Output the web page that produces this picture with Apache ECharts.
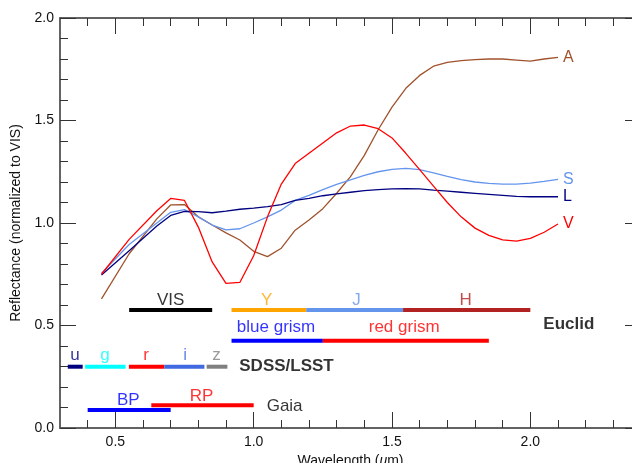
<!DOCTYPE html>
<html>
<head>
<meta charset="utf-8">
<script src="https://cdn.jsdelivr.net/npm/echarts@6/dist/echarts.min.js"></script>
<style>
html,body{margin:0;padding:0;background:#fff;}
#chart{width:632px;height:463px;}
</style>
</head>
<body>
<div id="chart"></div>
<script>
// ---- data ----
const wavelength = [0.45,0.55,0.65,0.70,0.75,0.80,0.85,0.90,0.95,1.00,1.05,1.10,1.15,1.20,1.25,1.30,1.35,1.40,1.45,1.50,1.55,1.60,1.65,1.70,1.75,1.80,1.85,1.90,1.95,2.00,2.05,2.10];
const seriesA = [0.63,0.85,1.02,1.088,1.09,1.03,0.99,0.952,0.917,0.862,0.836,0.877,0.965,1.015,1.07,1.145,1.226,1.33,1.455,1.565,1.657,1.72,1.765,1.784,1.792,1.797,1.80,1.80,1.795,1.79,1.80,1.808];
const seriesS = [0.755,0.895,1.00,1.052,1.065,1.03,0.99,0.966,0.972,1.00,1.03,1.063,1.11,1.135,1.163,1.188,1.21,1.232,1.25,1.262,1.266,1.26,1.245,1.228,1.212,1.20,1.193,1.19,1.19,1.195,1.203,1.213];
const seriesL = [0.746,0.865,0.985,1.037,1.057,1.055,1.05,1.058,1.067,1.073,1.08,1.09,1.11,1.12,1.133,1.142,1.15,1.158,1.163,1.166,1.167,1.166,1.16,1.155,1.15,1.145,1.14,1.135,1.13,1.128,1.128,1.128];
const seriesV = [0.75,0.92,1.06,1.12,1.11,0.98,0.81,0.705,0.71,0.84,1.03,1.19,1.29,1.34,1.39,1.44,1.473,1.478,1.46,1.415,1.34,1.26,1.18,1.10,1.03,0.975,0.94,0.918,0.912,0.925,0.955,0.995];
const curveNames = ['A','S','L','V'];

const bandNames  = ['VIS','Y','J','H','blue grism','red grism','u','g','r','i','z','BP','RP'];
const bandStart  = [0.55,0.92,1.19,1.54,0.92,1.25,0.328,0.391,0.549,0.677,0.830,0.40,0.63];
const bandEnd    = [0.85,1.19,1.54,2.00,1.25,1.85,0.382,0.537,0.677,0.822,0.905,0.70,1.00];
const bandLevel  = [0.576,0.576,0.576,0.576,0.426,0.426,0.299,0.299,0.299,0.299,0.299,0.088,0.111];
const bandLabelX = [0.70,1.047,1.372,1.766,1.081,1.544,0.354,0.463,0.611,0.752,0.866,0.547,0.812];
const bandLabelY = [0.622,0.622,0.622,0.622,0.489,0.489,0.354,0.354,0.354,0.354,0.354,0.134,0.156];

const groupNames = ['Euclid','SDSS/LSST','Gaia'];
const groupX     = [2.047,0.948,1.047];
const groupY     = [0.505,0.302,0.107];

const xMajorTicks = [0.5,1.0,1.5,2.0];
const xMinorTicks = [0.4,0.5,0.6,0.7,0.8,0.9,1.0,1.1,1.2,1.3,1.4,1.5,1.6,1.7,1.8,1.9,2.0,2.1,2.2,2.3];

// ---- styles ----
const curveColors = {A:'#A0522D', S:'#6495ED', L:'#000080', V:'#FF0000'};
const bandColors = {'VIS':'#000000','Y':'#FFA500','J':'#6495ED','H':'#B22222','blue grism':'#0000FF','red grism':'#FF0000',
  'u':'#000080','g':'#00FFFF','r':'#FF0000','i':'#4169E1','z':'#7F7F7F','BP':'#0000FF','RP':'#FF0000'};
const groupBold = {'Euclid':true,'SDSS/LSST':true,'Gaia':false};
const FONT = '"Liberation Sans", Arial, Helvetica, sans-serif';
const axisLine = {show:true, onZero:false, lineStyle:{color:'#5a5a5a', width:1.5}};
const tickColor = '#333';

const curveData = {A:seriesA, S:seriesS, L:seriesL, V:seriesV};

function xAxisDef(pos, ticks, len, withLabel) {
  const ax = {
    type:'value', min:0.3, max:2.4, position:pos, gridIndex:0,
    axisLine: axisLine,
    splitLine:{show:false},
    axisTick:{show:true, inside:true, length:len, customValues:ticks, lineStyle:{color:tickColor, width:1}},
    axisLabel:{show:false}
  };
  if (withLabel) {
    ax.axisLabel = {show:true, customValues:xMajorTicks, formatter:v=>v.toFixed(1), fontSize:14, margin:7, color:'#111', fontFamily:FONT};
    ax.name = '{n|Wavelength (}{i|μ}{n|m)}';
    ax.nameLocation = 'middle';
    ax.nameGap = 21;
    ax.nameTextStyle = {rich:{n:{fontSize:14, color:'#111', fontFamily:FONT}, i:{fontSize:14, color:'#111', fontStyle:'italic', fontFamily:FONT}}};
  }
  return ax;
}
function yAxisDef(pos, interval, len, withLabel) {
  const ax = {
    type:'value', min:0, max:2, interval:interval, position:pos, gridIndex:0,
    axisLine: axisLine,
    splitLine:{show:false},
    axisTick:{show:true, inside:true, length:len, lineStyle:{color:tickColor, width:1}},
    axisLabel:{show:false}
  };
  if (withLabel) {
    ax.axisLabel = {show:true, formatter:v=>v.toFixed(1), fontSize:14, margin:6, color:'#111', fontFamily:FONT};
    ax.name = 'Reflectance (normalized to VIS)';
    ax.nameLocation = 'middle';
    ax.nameGap = 34;
    ax.nameRotate = 90;
    ax.nameTextStyle = {fontSize:14, color:'#111', fontFamily:FONT};
  }
  return ax;
}

const series = [];
curveNames.forEach(n => {
  series.push({
    type:'line', name:n, xAxisIndex:0, yAxisIndex:0,
    data: wavelength.map((w,i)=>[w, curveData[n][i]]),
    symbol:'none', smooth:false, silent:true,
    lineStyle:{color:curveColors[n], width:1.3},
    endLabel:{show:true, formatter:'{a}', color:curveColors[n], fontSize:16, distance:5, fontFamily:FONT}
  });
});
bandNames.forEach((b,i) => {
  series.push({
    type:'line', name:b, xAxisIndex:0, yAxisIndex:0,
    data:[[bandStart[i], bandLevel[i]],[bandEnd[i], bandLevel[i]]],
    symbol:'none', silent:true,
    lineStyle:{color:bandColors[b], width:4, cap:'butt'}
  });
});
series.push({
  type:'scatter', xAxisIndex:0, yAxisIndex:0, symbolSize:0, silent:true,
  data: bandNames.map((b,i)=>({value:[bandLabelX[i], bandLabelY[i]],
    label:{show:true, position:'inside', formatter:b, color:bandColors[b], fontSize:17, fontFamily:FONT}}))
});
series.push({
  type:'scatter', xAxisIndex:0, yAxisIndex:0, symbolSize:0, silent:true,
  data: groupNames.map((g,i)=>({value:[groupX[i], groupY[i]],
    label:{show:true, position:'right', distance:0, formatter:g, color:'#000', fontSize:17,
      fontWeight: groupBold[g] ? 'bold' : 'normal', fontFamily:FONT}}))
});

const chart = echarts.init(document.getElementById('chart'), null, {renderer:'canvas'});
chart.setOption({
  backgroundColor:'#fff',
  animation:false,
  textStyle:{fontFamily:FONT},
  grid:{left:60, top:18, width:581, height:410, containLabel:false, outerBoundsMode:'none'},
  xAxis:[
    xAxisDef('bottom', xMajorTicks, 16, true),
    xAxisDef('bottom', xMinorTicks, 8, false),
    xAxisDef('top', xMajorTicks, 16, false),
    xAxisDef('top', xMinorTicks, 8, false)
  ],
  yAxis:[
    yAxisDef('left', 0.5, 16, true),
    yAxisDef('left', 0.1, 8, false),
    yAxisDef('right', 0.5, 16, false),
    yAxisDef('right', 0.1, 8, false)
  ],
  series: series
});
</script>
</body>
</html>
